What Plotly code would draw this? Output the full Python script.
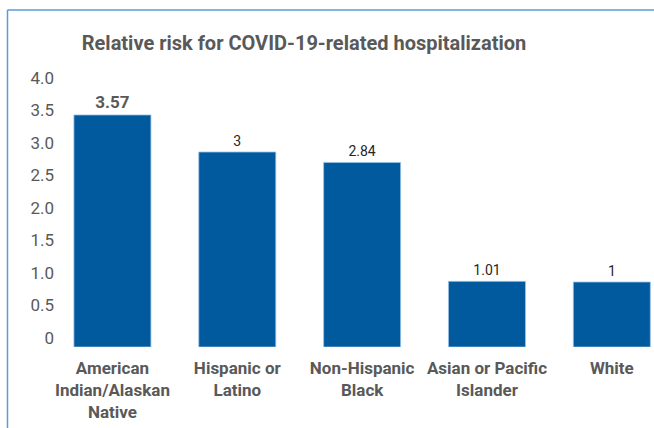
import plotly.graph_objects as go

categories = ["American<br>Indian/Alaskan<br>Native", "Hispanic or<br>Latino", "Non-Hispanic<br>Black",
              "Asian or Pacific<br>Islander", "White"]
values = [3.57, 3.0, 2.84, 1.01, 1.0]
value_labels = ["<b>3.57</b>", "3", "2.84", "1.01", "1"]
tick_vals = [0, 0.5, 1.0, 1.5, 2.0, 2.5, 3.0, 3.5, 4.0]
tick_text = ["0", "0.5", "1.0", "1.5", "2.0", "2.5", "3.0", "3.5", "4.0"]

W, H = 654, 428
L, R, T, B = 55, 0, 87, 81
pw, ph = W - L - R, H - T - B
step = 124.85

fig = go.Figure(go.Bar(
    x=list(range(len(categories))), y=values,
    text=value_labels, textposition="outside",
    textfont=dict(size=[17, 14, 14, 14, 14], color=["#595959", "#262626", "#262626", "#262626", "#262626"],
                  family="Roboto"),
    marker=dict(color="#015A9E", line=dict(color="#9DC3E6", width=0.8)),
    width=0.617, cliponaxis=False,
))

fig.update_layout(
    width=W, height=H, margin=dict(l=L, r=R, t=T, b=B),
    paper_bgcolor="white", plot_bgcolor="white",
    showlegend=False,
    font=dict(family="Roboto", color="#595959"),
    title=dict(text="<b>Relative risk for COVID-19-related hospitalization</b>",
               x=(304) / W, xanchor="center", y=1 - 43 / H, yanchor="middle",
               font=dict(size=20, color="#595959", family="Roboto")),
    xaxis=dict(range=[-0.5 + (L - 50) / step, (W - 50) / step - 0.5], tickvals=list(range(len(categories))),
               ticktext=[f"<b>{c}</b>" for c in categories],
               tickfont=dict(size=17, color="#595959"), showgrid=False, zeroline=False,
               showline=False, ticks="", ticklabelstandoff=9),
    yaxis=dict(range=[0, 4.0], tickvals=tick_vals, ticktext=tick_text,
               tickfont=dict(size=17, color="#595959"), showgrid=False, zeroline=False,
               showline=False, ticks="", ticklabelshift=-9, ticklabelstandoff=0),
    shapes=[
        dict(type="line", xref="paper", yref="paper",
             x0=(7.5 - L) / pw, x1=1.05, y0=(H - B - 10) / ph, y1=(H - B - 10) / ph,
             line=dict(color="#5B9BD5", width=1.5)),
        dict(type="line", xref="paper", yref="paper",
             x0=(7.5 - L) / pw, x1=(7.5 - L) / pw, y0=(H - B - 10) / ph, y1=-0.4,
             line=dict(color="#5B9BD5", width=1.5)),
    ],
)

fig.write_html("out.html")
